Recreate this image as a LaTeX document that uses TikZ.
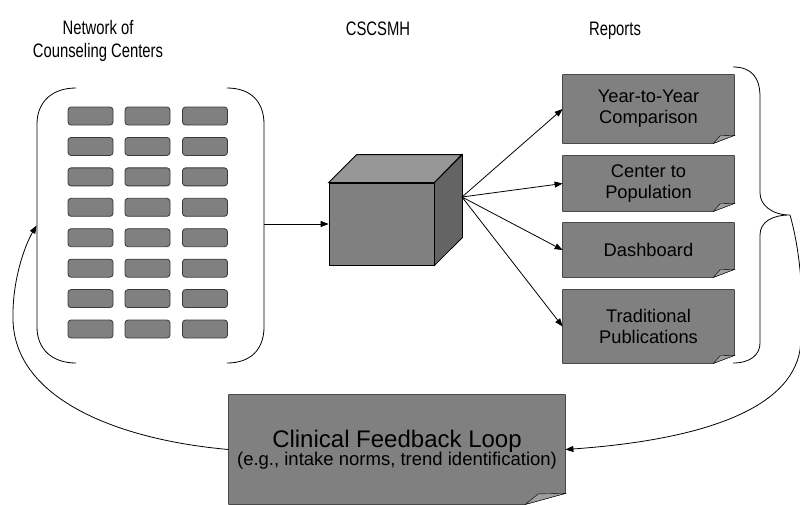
\documentclass[tikz,border=0pt]{standalone}
\usepackage{fontspec}
\setmainfont{Liberation Sans}
\newfontfamily\narrowfont[FakeStretch=0.76]{Liberation Sans}
\usetikzlibrary{arrows.meta,backgrounds}
\definecolor{boxgray}{HTML}{808080}
\definecolor{foldgray}{HTML}{A0A0A0}
\definecolor{cubetop}{HTML}{969696}
\definecolor{cubeside}{HTML}{646464}
\definecolor{cellline}{HTML}{3A3A3A}
\newcommand\notefold[3]{%
  \filldraw[fill=boxgray] (#1.north west) -- (#1.north east) -- ([yshift=#3]#1.south east)
    -- ([xshift=-#2]#1.south east) -- (#1.south west) -- cycle;
  \filldraw[fill=foldgray] ([xshift=-#2]#1.south east) -- ([xshift=-0.68*#2, yshift=0.95*#3]#1.south east)
    -- ([yshift=#3]#1.south east) -- cycle;}
\begin{document}
\begin{tikzpicture}[x=1pt,y=-1pt,line width=0.8pt,
  arr/.style={-{Triangle[length=8pt,width=6pt]}},
  hdr/.style={font=\narrowfont\fontsize{19.5}{22.5}\selectfont,inner sep=0,align=center},
  rep/.style={minimum width=171pt,inner sep=0,align=center,font=\fontsize{18.3}{21}\selectfont},
  cell/.style={draw=cellline,fill=boxgray,rounded corners=3pt,minimum width=45pt,minimum height=18pt,inner sep=0}]
\useasboundingbox (0,0) rectangle (800,504);

% headers
\node[hdr] (h1) at (98,41) {Network of\\Counseling Centers};
\node[hdr,anchor=base] (h2) at (378,35.5) {CSCSMH};
\node[hdr,anchor=base] (h3) at (615,35.5) {Reports};

% network of counseling centers
\node[minimum width=227pt,minimum height=275pt,inner sep=0] (net) at (150.5,225.5) {};
\foreach \c [count=\i] in {90.5,147.5,205}
  \foreach \r in {0,...,7}
    \node[cell] (c\i-\r) at (\c,{116+30.43*\r}) {};
\draw (76,88) .. controls (52,88) and (37,102) .. (37,124) -- (37,327)
  .. controls (37,349) and (52,363) .. (76,363);
\draw (227,88) .. controls (251,88) and (264,102) .. (264,124) -- (264,327)
  .. controls (264,349) and (251,363) .. (227,363);

% cube
\node[draw,fill=boxgray,minimum width=105pt,minimum height=82pt,inner sep=0] (cube) at (381.5,224) {};
\filldraw[fill=cubetop] (cube.north west) -- ++(28,-28) -- ++(105,0) -- (cube.north east) -- cycle;
\filldraw[fill=cubeside] (cube.north east) -- ++(28,-28) -- ++(0,83) -- (cube.south east) -- cycle;
\coordinate (hub) at (462,197);

% reports
\node[rep,minimum height=68pt] (r1) at (648.5,109) {Year-to-Year\\Comparison};
\node[rep,minimum height=55pt] (r2) at (648.5,183.5) {Center to\\Population};
\node[rep,minimum height=54pt] (r3) at (648.5,250) {Dashboard};
\node[rep,minimum height=73pt] (r4) at (648.5,326.5) {Traditional\\Publications};

% clinical feedback loop
\node[minimum width=336pt,minimum height=109pt,inner sep=0,align=center] (clin) at (397,449.5)
  {\fontsize{24}{24}\selectfont Clinical Feedback Loop\\[-1pt]\fontsize{18.5}{20}\selectfont (e.g., intake norms, trend identification)};

\begin{scope}[on background layer]
  \notefold{r1}{21pt}{8pt}
  \notefold{r2}{21pt}{8pt}
  \notefold{r3}{21pt}{8pt}
  \notefold{r4}{21pt}{8pt}
  \notefold{clin}{40pt}{11pt}
\end{scope}

% brace
\draw (733,67) .. controls (752,67) and (760,78) .. (760,97) -- (760,193)
  .. controls (760,205) and (772,215) .. (790,215)
  .. controls (772,215) and (760,222) .. (760,235) -- (760,343)
  .. controls (760,355) and (750,363) .. (733,363);
\coordinate (tip) at (790,215);

% connectors
\draw[arr] (net.east |- cube.west) -- (cube.west);
\foreach \b in {r1,r2,r3,r4} \draw[arr] (hub) -- (\b.west);
\draw[arr] (tip) .. controls (800,250) and (805,300) .. (800,350)
  .. controls (790,410) and (700,440) .. (clin.east);
\draw[arr] (clin.west) .. controls (120,440) and (15,400) .. (13,320)
  .. controls (12,280) and (25,245) .. (net.west);
\end{tikzpicture}
\end{document}
